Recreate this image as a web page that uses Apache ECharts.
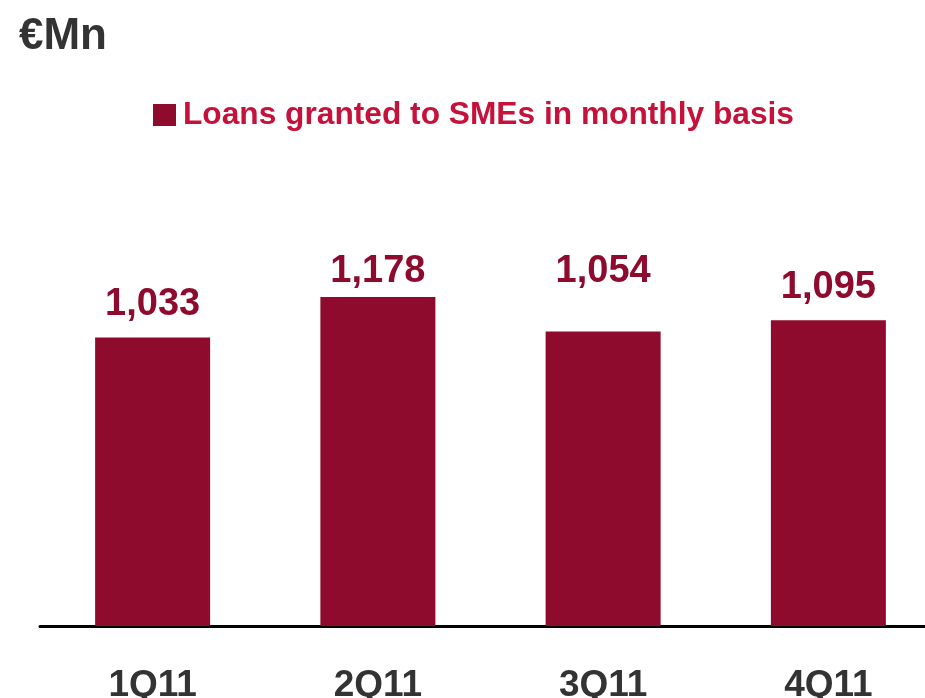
<!DOCTYPE html>
<html>
<head>
<meta charset="utf-8">
<title>Loans granted to SMEs</title>
<script src="https://cdn.jsdelivr.net/npm/echarts@6/dist/echarts.min.js"></script>
<style>
  html, body { margin: 0; padding: 0; background: #ffffff; }
  #chart { width: 925px; height: 698px; }
</style>
</head>
<body>
<div id="chart"></div>
<script>
// Quarterly figures, €Mn
const quarters = ['1Q11', '2Q11', '3Q11', '4Q11'];
const smeLoans = [1033, 1178, 1054, 1095];
const seriesName = 'Loans granted to SMEs in monthly basis';

// Extra vertical nudge for each value label (px, positive = up)
const labelLift = [0, -8, 27, 0];

const barColor = '#8E0B2D';

const chart = echarts.init(document.getElementById('chart'), null, { renderer: 'canvas' });

chart.setOption({
  animation: false,
  backgroundColor: '#ffffff',
  title: {
    text: '€Mn',
    left: 14,
    top: 10,
    textStyle: {
      fontFamily: 'Liberation Sans, Arial, sans-serif',
      fontSize: 44,
      fontWeight: 'bold',
      color: '#333333'
    }
  },
  legend: {
    left: 148,
    top: 94,
    icon: 'rect',
    itemWidth: 23,
    itemHeight: 22,
    selectedMode: false,
    data: [seriesName],
    textStyle: {
      fontFamily: 'Liberation Sans, Arial, sans-serif',
      fontSize: 31.7,
      fontWeight: 'bold',
      color: '#C6123A',
      padding: [0, 0, 0, 2]
    }
  },
  // the plot runs past the right edge, so the last band and the axis are cut off
  grid: {
    left: 40,
    right: -16,
    top: 207,
    bottom: 72,
    containLabel: false,
    outerBoundsMode: 'none'
  },
  xAxis: {
    type: 'category',
    data: quarters,
    axisLine: { show: true, lineStyle: { color: '#000000', width: 3 } },
    axisTick: { show: false },
    splitLine: { show: false },
    axisLabel: {
      margin: 41,
      fontFamily: 'Liberation Sans, Arial, sans-serif',
      fontSize: 37,
      fontWeight: 'bold',
      color: '#333333'
    }
  },
  yAxis: {
    type: 'value',
    min: 0,
    max: 1500,
    show: false,
    splitLine: { show: false }
  },
  series: [{
    name: seriesName,
    type: 'bar',
    barWidth: 115,
    itemStyle: { color: barColor },
    data: smeLoans.map((v, i) => ({
      value: v,
      label: { offset: [0, -labelLift[i]] }
    })),
    label: {
      show: true,
      position: 'top',
      distance: 14,
      fontFamily: 'Liberation Sans, Arial, sans-serif',
      fontSize: 38,
      fontWeight: 'bold',
      color: barColor,
      formatter: p => p.value.toLocaleString('en-US')
    }
  }]
});
</script>
</body>
</html>
